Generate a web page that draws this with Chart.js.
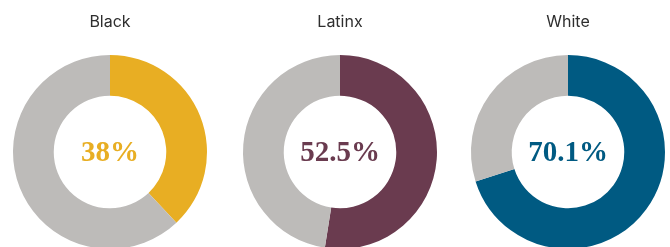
<!DOCTYPE html>
<html>
<head>
<meta charset="utf-8">
<script src="https://cdn.jsdelivr.net/npm/chart.js@4"></script>
<style>
  html, body { margin: 0; padding: 0; background: #fff; overflow: hidden; }
  body { width: 670px; height: 247px; position: relative; }
  .pie { position: absolute; top: 0; width: 220px; height: 249px; }
</style>
</head>
<body>
<div class="pie" style="left:0px"><canvas id="c0" width="220" height="249"></canvas></div>
<div class="pie" style="left:230px"><canvas id="c1" width="220" height="249"></canvas></div>
<div class="pie" style="left:458px"><canvas id="c2" width="220" height="249"></canvas></div>
<script>
// one ring per group, share of the group vs the rest
const groups = ['Black', 'Latinx', 'White'];
const shares = [38, 52.5, 70.1];
const colors = ['#E8AE23', '#6A3B4F', '#005A82'];
const restColor = '#BDBBB9';

// writes the share in the hole of the ring
const centerText = {
  id: 'centerText',
  afterDraw(chart, args, opts) {
    const arc = chart.getDatasetMeta(0).data[0];
    const ctx = chart.ctx;
    ctx.save();
    ctx.font = 'bold 29px "Liberation Serif", serif';
    ctx.fillStyle = opts.color;
    ctx.textAlign = 'center';
    ctx.textBaseline = 'alphabetic';
    ctx.fillText(opts.text, arc.x, arc.y + 9);
    ctx.restore();
  }
};

groups.forEach(function (g, i) {
  new Chart(document.getElementById('c' + i), {
    type: 'doughnut',
    data: {
      labels: [g, 'Other'],
      datasets: [{
        data: [shares[i], 100 - shares[i]],
        backgroundColor: [colors[i], restColor],
        borderWidth: 0
      }]
    },
    options: {
      responsive: false,
      animation: false,
      devicePixelRatio: 1,
      cutout: '58%',
      layout: { padding: 0 },
      plugins: {
        legend: { display: false },
        tooltip: { enabled: false },
        title: {
          display: true,
          text: g,
          color: '#2e2e2e',
          font: { family: 'Inter', size: 16, weight: 'normal', lineHeight: 1.2 },
          padding: { top: 12.5, bottom: 23.3 }
        },
        centerText: { text: shares[i] + '%', color: colors[i] }
      }
    },
    plugins: [centerText]
  });
});
</script>
</body>
</html>
